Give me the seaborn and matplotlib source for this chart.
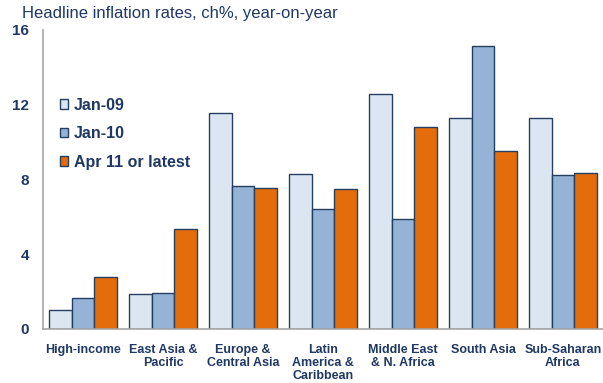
import matplotlib
matplotlib.use("Agg")
import matplotlib.pyplot as plt
import seaborn as sns
import pandas as pd
import numpy as np

categories = ["High-income", "East Asia &\nPacific", "Europe &\nCentral Asia",
              "Latin\nAmerica &\nCaribbean", "Middle East\n& N. Africa",
              "South Asia", "Sub-Saharan\nAfrica"]
series = ["Jan-09", "Jan-10", "Apr 11 or latest"]
jan09 = [1.0, 1.85, 11.55, 8.3, 12.55, 11.3, 11.27]
jan10 = [1.65, 1.92, 7.65, 6.42, 5.9, 15.12, 8.24]
apr11 = [2.78, 5.35, 7.52, 7.48, 10.8, 9.55, 8.35]
yticks = [0, 4, 8, 12, 16]

colors = ["#DCE6F2", "#95B3D7", "#E46C0A"]
navy = "#1F3864"
edge = "#243F60"

sns.set_theme(style="white")
plt.rcParams["font.family"] = ["Liberation Sans", "DejaVu Sans"]

df = pd.DataFrame({
    "cat": categories * 3,
    "series": [series[0]] * 7 + [series[1]] * 7 + [series[2]] * 7,
    "value": jan09 + jan10 + apr11,
})

fig = plt.figure(figsize=(6.03, 3.83), dpi=100)
ax = fig.add_axes([0.0713, 0.141, 0.9287, 0.7807])
sns.barplot(data=df, x="cat", y="value", hue="series", order=categories,
            hue_order=series, palette=colors, edgecolor=edge, linewidth=1.0,
            width=0.86, ax=ax, saturation=1)

ax.set_xlim(-0.5, 6.5)
ax.set_ylim(0, 16)
ax.set_yticks(yticks)
ax.set_yticklabels([str(v) for v in yticks], fontweight="bold", color=navy, fontsize=11)
ax.tick_params(axis="y", length=0, pad=10)
ax.set_xlabel("")
ax.set_ylabel("")
ax.set_xticks(range(7))
ax.set_xticklabels(categories, fontweight="bold", color=navy, fontsize=9,
                   linespacing=1.1, va="top")
ax.tick_params(axis="x", which="major", length=0, pad=11)
ax.set_xticks(np.arange(-0.5, 7.0, 1.0), minor=True)
ax.tick_params(axis="x", which="minor", length=4, color="#A6A6A6", width=1, direction="out")

for s in ["top", "right"]:
    ax.spines[s].set_visible(False)
for s in ["left", "bottom"]:
    ax.spines[s].set_color("#A6A6A6")
    ax.spines[s].set_linewidth(1.2)
ax.grid(False)

leg = ax.legend(loc="upper left", bbox_to_anchor=(0.004, 0.822), frameon=False,
                handlelength=0.55, handleheight=0.55, handletextpad=0.35,
                labelspacing=0.85, fontsize=11.5)
for t in leg.get_texts():
    t.set_fontweight("bold")
    t.set_color(navy)

fig.text(22 / 603, 1 - 6 / 383, "Headline inflation rates, ch%, year-on-year",
         fontsize=12, color=navy, va="top", ha="left")

fig.savefig("out.png", dpi=100)
